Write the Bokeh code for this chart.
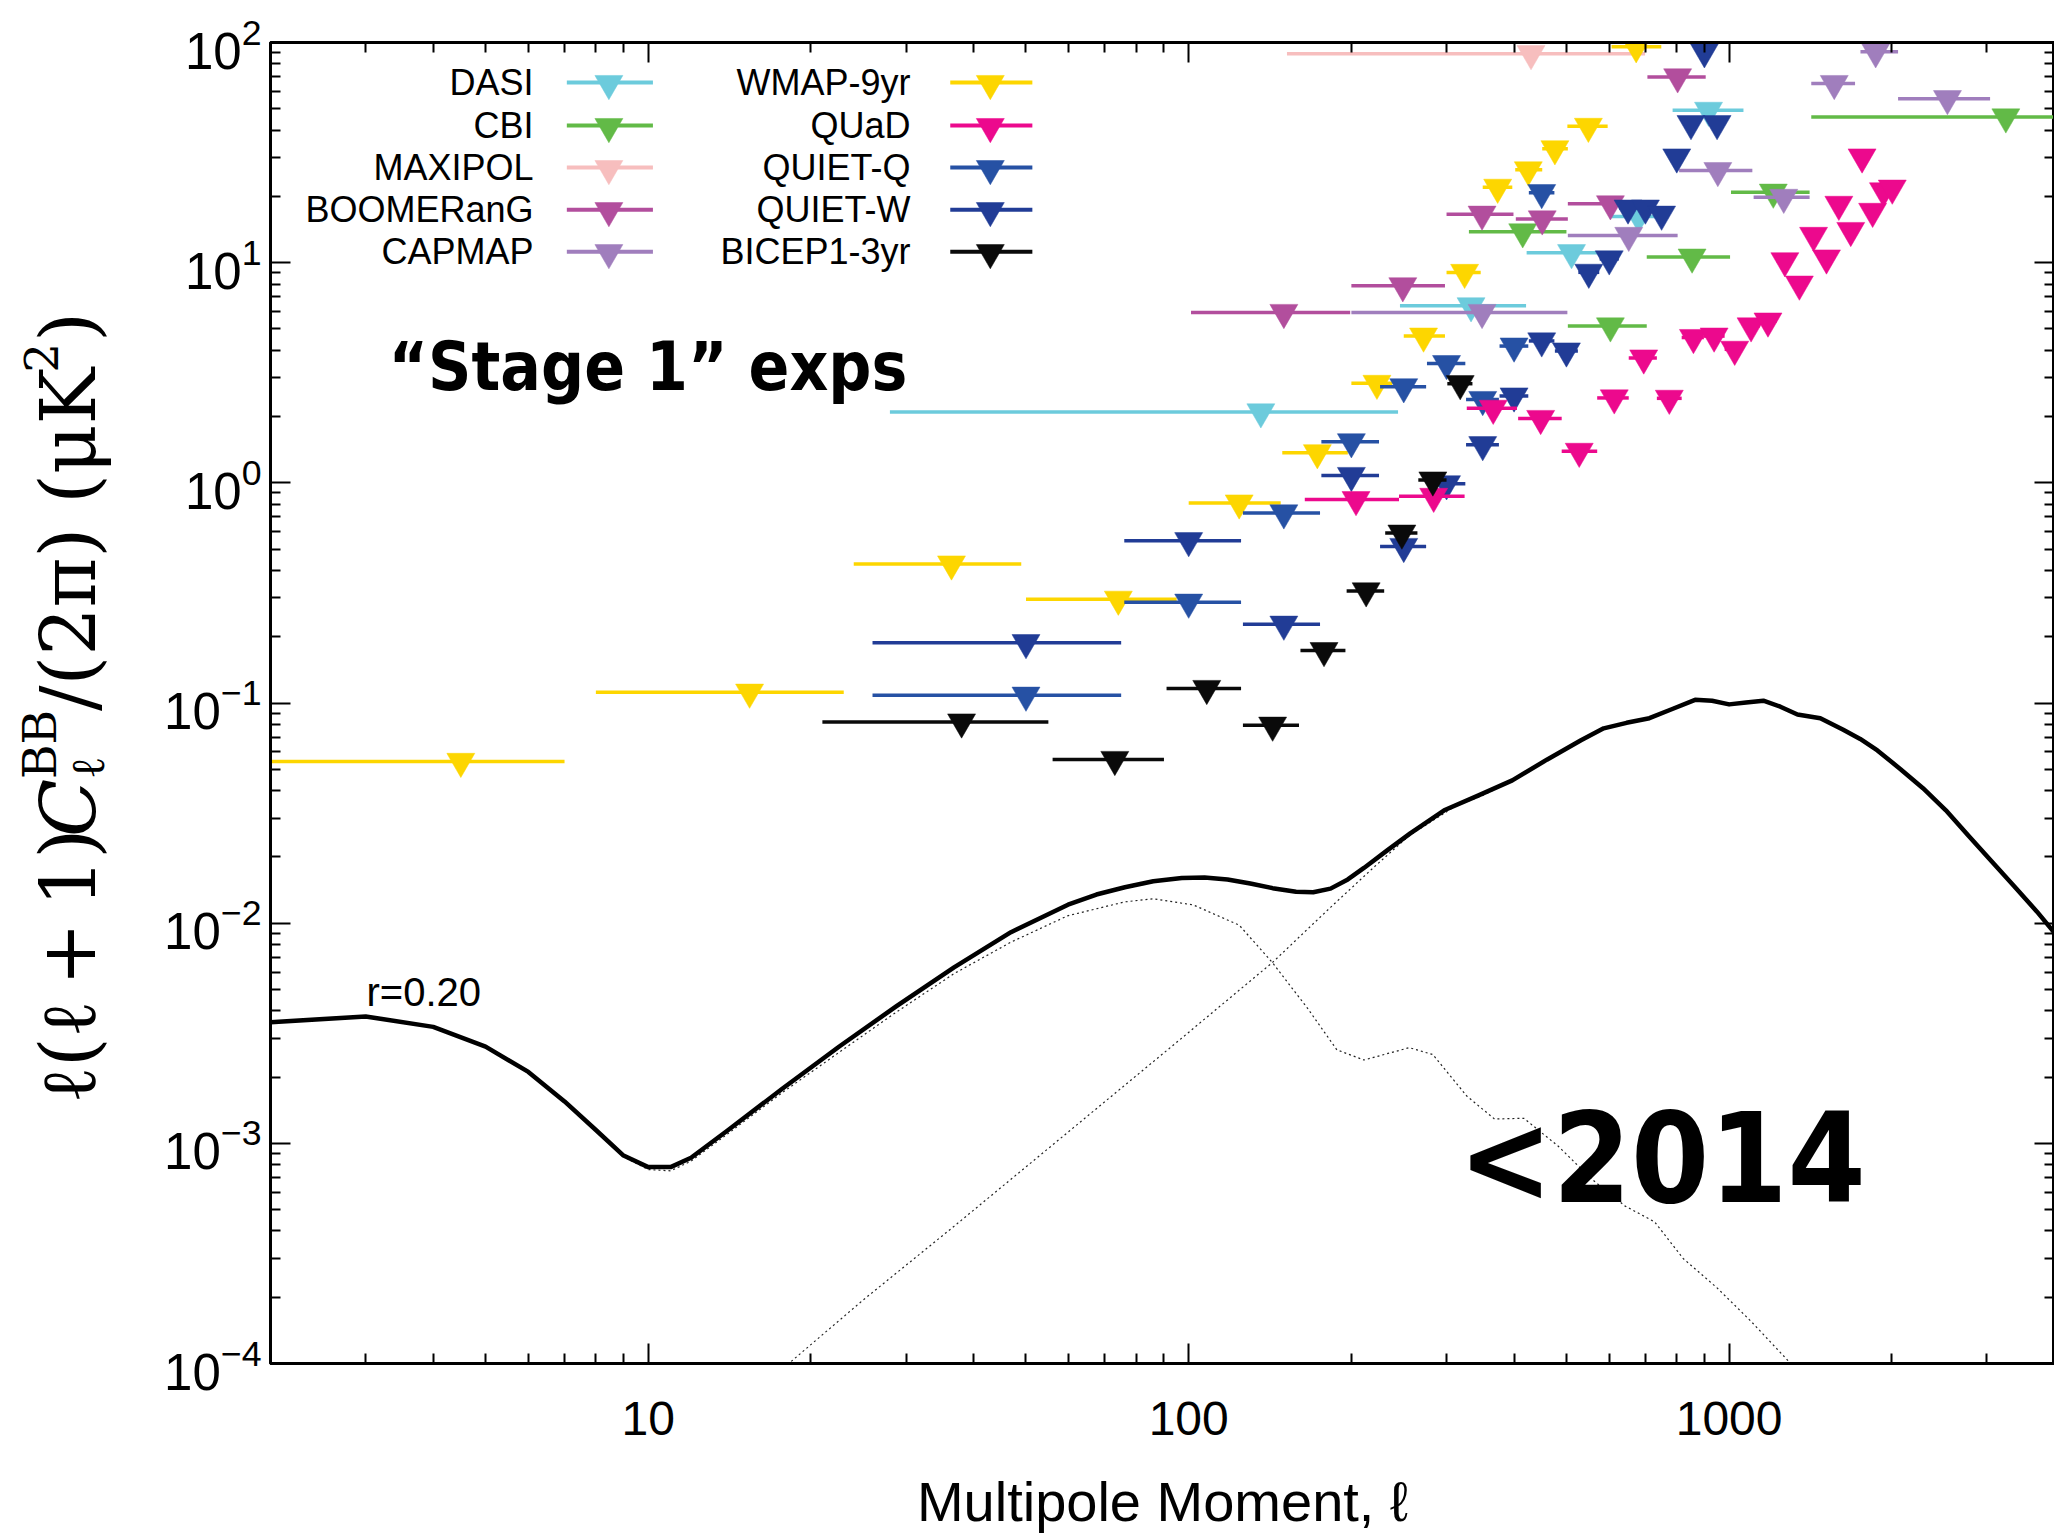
from math import log10, pi
from bokeh.plotting import figure
from bokeh.layouts import row
from bokeh.models import (Range1d, LogAxis, FixedTicker, LogTickFormatter,
                          NumeralTickFormatter, CustomJSTickFormatter, Label)
from bokeh.core.properties import value
from bokeh.embed import file_html
from bokeh.resources import INLINE

# ---------------- data ----------------
# theory curves: total BB (r=0.20 + lensing), tensor part, lensing part
tot_l = [2, 3, 4, 5, 6, 7, 8, 9, 10, 11, 12, 14, 17.7, 22.6, 28.8, 36.8, 46.9,
         59.8, 67.5, 76.2, 86.0, 97.1, 107, 118, 130, 143, 158, 170, 183, 197, 211, 233, 257,
         297, 343, 397, 460, 532, 586, 646, 712, 785, 865, 930, 1000, 1075, 1157, 1244, 1338,
         1475, 1626, 1748, 1881, 2073, 2284, 2518, 2773, 3056, 3369, 3712, 3993]
tot_v = [3.55e-3, 3.77e-3, 3.38e-3, 2.75e-3, 2.11e-3, 1.55e-3, 1.15e-3, 8.8e-4, 7.8e-4, 7.8e-4,
         8.6e-4, 1.14e-3, 1.77e-3, 2.76e-3, 4.2e-3, 6.3e-3, 9.1e-3,
         0.01213, 0.01349, 0.01456, 0.01549, 0.01603, 0.01611, 0.01580, 0.01513, 0.01442,
         0.01388, 0.01381, 0.01435, 0.01580, 0.01782, 0.02140, 0.02557, 0.03256, 0.03798,
         0.04450, 0.05528, 0.06768, 0.07671, 0.08128, 0.08531, 0.09393, 0.1034, 0.1024,
         0.09856, 0.1005, 0.1024, 0.09623, 0.08867, 0.08531, 0.07562, 0.06867, 0.06087,
         0.05019, 0.04102, 0.03256, 0.02497, 0.01916, 0.01470, 0.01128, 0.00908]
ten_l = [2, 3, 4, 5, 6, 7, 8, 9, 10, 11, 12, 14, 17.7, 22.6, 28.8, 36.8, 46.9, 59.7, 76.2, 86,
         102, 124, 143, 166, 188, 211, 256, 283, 327, 368, 417, 483, 556, 641, 728, 822, 951,
         1099, 1300, 1400]
ten_v = [3.55e-3, 3.77e-3, 3.38e-3, 2.75e-3, 2.11e-3, 1.55e-3, 1.15e-3, 8.7e-4, 7.6e-4, 7.5e-4,
         8.3e-4, 1.1e-3, 1.7e-3, 2.6e-3, 3.95e-3, 5.9e-3, 8.2e-3, 1.08e-2, 1.25e-2, 1.29e-2,
         1.21e-2, 9.8e-3, 6.6e-3, 4.1e-3, 2.66e-3, 2.39e-3, 2.72e-3, 2.53e-3, 1.64e-3, 1.29e-3,
         1.30e-3, 9.7e-4, 6.9e-4, 5.2e-4, 4.4e-4, 3.0e-4, 2.2e-4, 1.55e-4, 1.0e-4, 8.0e-5]
len_l = [15, 18.2, 24.9, 36.8, 59.7, 97, 143, 183, 222, 256, 312, 350, 397]
len_v = [7e-5, 1.0e-4, 1.93e-4, 4.2e-4, 1.12e-3, 3.0e-3, 6.64e-3, 1.18e-2, 1.83e-2, 2.5e-2,
         3.41e-2, 3.8e-2, 4.45e-2]

# experiments: bin centre, upper limit, bin low edge, bin high edge
dasi_l = [136, 333, 511, 680, 916]
dasi_v = [2.10, 6.37, 11.1, 16.2, 49.2]
dasi_lo = [28, 246, 422, 600, 786]
dasi_hi = [244, 421, 595, 770, 1063]

cbi_l = [415, 603, 854, 1207, 3251]
cbi_v = [13.8, 5.16, 10.6, 20.9, 45.9]
cbi_lo = [330, 503, 704, 1008, 1419]
cbi_hi = [500, 704, 1004, 1409, 4000]

maxipol_l = [430]
maxipol_v = [89.0]
maxipol_lo = [152]
maxipol_hi = [699]

boom_l = [150, 249, 349, 451, 603, 803]
boom_v = [5.94, 7.85, 16.6, 15.8, 18.5, 69.8]
boom_lo = [101, 200, 300, 403, 503, 706]
boom_hi = [199, 298, 399, 503, 700, 905]

capmap_l = [349, 652, 953, 1262, 1565, 1867, 2535]
capmap_v = [5.94, 13.3, 26.2, 19.8, 65.1, 90.7, 55.6]
capmap_lo = [200, 503, 808, 1110, 1419, 1750, 2054]
capmap_hi = [502, 803, 1104, 1409, 1710, 2054, 3040]

wmap_l = [4.5, 15.4, 36.4, 74.1, 124, 173, 223, 272, 324, 373, 425, 476, 549, 673]
wmap_v = [0.0543, 0.112, 0.428, 0.296, 0.81, 1.37, 2.83, 4.64, 9.03, 22.0, 26.4, 32.9, 41.6, 95.6]
wmap_lo = [2, 8, 24, 50, 100, 149, 200, 250, 300, 350, 402, 451, 502, 606]
wmap_hi = [7, 23, 49, 95, 148, 197, 238, 298, 347, 397, 451, 503, 596, 749]

quad_l = [204, 284, 366, 448, 528, 613, 695, 775, 859, 938, 1024, 1098, 1180, 1268, 1349,
          1433, 1514, 1596, 1679, 1762, 1843, 1930, 2004]
quad_v = [0.839, 0.868, 2.18, 1.96, 1.39, 2.43, 3.69, 2.42, 4.57, 4.64, 4.04, 5.16, 5.43, 10.2,
          7.99, 13.3, 10.5, 18.4, 14.0, 30.2, 17.1, 21.2, 21.8]
quad_lo = [164, 245, 327, 407, 490, 570, 652, 735, 817, 898, 981, 1061, 1139, 1224, 1308, 1391,
           1473, 1555, 1637, 1720, 1802, 1886, 1967]
quad_hi = [245, 324, 405, 490, 570, 652, 735, 817, 898, 981, 1061, 1139, 1224, 1308, 1391, 1473,
           1555, 1637, 1720, 1802, 1886, 1967, 2040]

quietq_l = [50, 100, 150, 200, 250, 300, 350, 400, 450]
quietq_v = [0.1085, 0.287, 0.73, 1.536, 2.73, 3.48, 2.39, 4.18, 20.8]
quietq_lo = [26, 76, 126, 176, 226, 276, 326, 376, 426]
quietq_hi = [75, 125, 175, 225, 275, 325, 375, 425, 475]

quietw_l = [50, 100, 150, 200, 250, 300, 350, 400, 450, 500, 550, 600, 650, 700, 750, 800,
            850, 900, 950]
quietw_v = [0.188, 0.546, 0.228, 1.08, 0.514, 0.99, 1.49, 2.48, 4.41, 3.97, 9.04, 10.4, 17.7,
            17.7, 16.6, 30.2, 42.8, 90.7, 42.8]
quietw_lo = [26, 76, 126, 176, 226, 276, 326, 376, 426, 476, 526, 576, 626, 676, 726, 776,
             826, 876, 926]
quietw_hi = [75, 125, 175, 225, 275, 325, 375, 425, 475, 525, 575, 625, 675, 725, 775, 825,
             875, 925, 975]

bicep_l = [38, 73, 108, 143, 178, 213, 248, 283, 318]
bicep_v = [0.082, 0.0554, 0.1164, 0.0793, 0.173, 0.323, 0.591, 1.03, 2.82]
bicep_lo = [21, 56, 91, 126, 161, 196, 231, 266, 301]
bicep_hi = [55, 90, 125, 160, 195, 230, 265, 300, 335]

names = ["DASI", "CBI", "MAXIPOL", "BOOMERanG", "CAPMAP",
         "WMAP-9yr", "QUaD", "QUIET-Q", "QUIET-W", "BICEP1-3yr"]
colors = ["#6CCBDC", "#62BA47", "#F7BEBE", "#B24E9D", "#A07EBD",
          "#FDD600", "#EC098D", "#2651A4", "#213C96", "#0A0A0A"]

x_major = [10, 100, 1000]
y_major = [1e-4, 1e-3, 1e-2, 1e-1, 1e0, 1e1, 1e2]

# ---------------- layout ----------------
H = 1536
LW = 160                      # narrow left strip carrying the rotated y label
W = 2054 - LW                 # main figure width
FL, FT, FB = 270, 43, 1363    # page coords of frame left / top / bottom
FR = 2052
BL, BT, BB, BR = FL - LW, FT - 1, H - FB, 0
XMIN, XMAX, YMIN, YMAX = 2, 4000, 1e-4, 1e2
BASE_SHIFT = 0.35             # empirical alphabetic baseline correction (fraction of font size)

p = figure(width=W, height=H, x_axis_type="log", y_axis_type="log",
           x_range=Range1d(XMIN, XMAX), y_range=Range1d(YMIN, YMAX),
           output_backend="svg", toolbar_location=None,
           min_border_left=BL, min_border_right=BR, min_border_top=BT, min_border_bottom=BB)
p.grid.visible = False
p.outline_line_color = "black"
p.outline_line_width = 3
p.background_fill_color = "white"
p.border_fill_color = "white"

x_minor = [k * 10 ** n for n in range(0, 4) for k in range(2, 10)
           if 2 < k * 10 ** n < 4000]
y_minor = [k * 10.0 ** n for n in range(-4, 2) for k in range(2, 10)]
xticker = FixedTicker(ticks=x_major, minor_ticks=x_minor)
yticker = FixedTicker(ticks=y_major, minor_ticks=y_minor)


def style_axis(ax, size="48px"):
    ax.axis_line_width = 3
    ax.axis_line_color = "black"
    ax.major_tick_in = 20
    ax.major_tick_out = 0
    ax.minor_tick_in = 10
    ax.minor_tick_out = 0
    ax.major_tick_line_width = 2
    ax.minor_tick_line_width = 2
    ax.major_tick_line_color = "black"
    ax.minor_tick_line_color = "black"
    ax.major_label_text_font = "Liberation Sans"
    ax.major_label_text_font_size = size
    ax.major_label_text_color = "black"


xa = p.xaxis[0]
style_axis(xa)
xa.ticker = xticker
xa.formatter = NumeralTickFormatter(format="0")
xa.major_label_standoff = 38
xa.axis_label = "Multipole Moment, ℓ"
xa.axis_label_text_font = "Liberation Sans"
xa.axis_label_text_font_size = "56px"
xa.axis_label_text_font_style = "normal"
xa.axis_label_text_color = "black"
xa.axis_label_standoff = 32

ya = p.yaxis[0]
style_axis(ya, "51px")
ya.ticker = yticker
ya.formatter = LogTickFormatter()
ya.major_label_standoff = 9

blank = CustomJSTickFormatter(code="return ''")
for loc, tk in (("above", xticker), ("right", yticker)):
    ax = LogAxis(ticker=tk, formatter=blank)
    style_axis(ax)
    ax.major_label_text_font_size = "1px"
    ax.major_label_standoff = 0
    p.add_layout(ax, loc)

# ---------------- theory curves ----------------
p.line(ten_l, ten_v, line_color="#222222", line_width=1.2, line_dash="2 3")
p.line(len_l, len_v, line_color="#222222", line_width=1.2, line_dash="2 3")
p.line(tot_l, tot_v, line_color="black", line_width=4.5, line_join="round")

# ---------------- experiments ----------------
exps = [
    (dasi_l, dasi_v, dasi_lo, dasi_hi, colors[0]),
    (cbi_l, cbi_v, cbi_lo, cbi_hi, colors[1]),
    (maxipol_l, maxipol_v, maxipol_lo, maxipol_hi, colors[2]),
    (boom_l, boom_v, boom_lo, boom_hi, colors[3]),
    (capmap_l, capmap_v, capmap_lo, capmap_hi, colors[4]),
    (wmap_l, wmap_v, wmap_lo, wmap_hi, colors[5]),
    (quietq_l, quietq_v, quietq_lo, quietq_hi, colors[7]),
    (quietw_l, quietw_v, quietw_lo, quietw_hi, colors[8]),
    (quad_l, quad_v, quad_lo, quad_hi, colors[6]),
    (bicep_l, bicep_v, bicep_lo, bicep_hi, colors[9]),
]
for l, v, lo, hi, c in exps:
    p.segment(x0=lo, y0=v, x1=hi, y1=v, line_color=c, line_width=3.5)
    p.scatter(x=l, y=v, marker="inverted_triangle", size=28, fill_color=c,
              line_color=c, line_width=0.5)


# ---------------- helpers for page-pixel placement ----------------
def lx(px):
    return 10 ** (log10(XMIN) + (px - FL) / (FR - FL) * log10(XMAX / XMIN))


def vy(py):
    return 10 ** (log10(YMAX) - (py - FT) / (FB - FT) * log10(YMAX / YMIN))


def lab(px, py, text, size, font="Liberation Sans", style="normal", align="left"):
    yb = py - BASE_SHIFT * size
    p.add_layout(Label(x=px - FL, y=FB - yb, x_units="screen", y_units="screen",
                       text=text, text_font=font, text_font_size=f"{size}px",
                       text_font_style=style, text_align=align, text_baseline="alphabetic",
                       text_color="black"))


# ---------------- legend (two columns, text left of symbol) ----------------
rows_y = [83, 126, 168, 210, 252]
cols = [(533, 566, 652, 608), (910, 949, 1031, 989)]
for i, (nm, c) in enumerate(zip(names, colors)):
    tx, l0, l1, mx = cols[i // 5]
    ry = rows_y[i % 5]
    lab(tx, ry + 12, nm, 36, align="right")
    p.segment(x0=[lx(l0)], y0=[vy(ry)], x1=[lx(l1)], y1=[vy(ry)], line_color=c, line_width=4)
    p.scatter(x=[lx(mx)], y=[vy(ry + 1)], marker="inverted_triangle", size=28,
              fill_color=c, line_color=c, line_width=0.5)

# ---------------- annotations ----------------
lab(388, 390, "\u201cStage 1\u201d exps", 67, font="DejaVu Sans Condensed", style="bold")
lab(1458, 1202, "<2014", 125, font="DejaVu Sans Condensed", style="bold")
lab(366, 1005, "r=0.20", 40)

# ---------------- y-axis label in a narrow left strip (rotated, reading upwards) ----
# the strip's frame is aligned with the main frame (page y FT..FB) by the row layout
lf = figure(width=LW, height=H, x_range=Range1d(0, LW), y_range=Range1d(H - FB, H - FT),
            output_backend="svg", toolbar_location=None,
            x_axis_location=None, y_axis_location=None,
            min_border_left=0, min_border_right=0, min_border_top=BT, min_border_bottom=BB)
lf.grid.visible = False
lf.outline_line_color = None
lf.background_fill_color = "white"
lf.border_fill_color = "white"

F, FS = 76, 47
bx = 95


def ytext(px, py, text, size, style="normal"):
    lf.text(x=[px - BASE_SHIFT * size], y=[H - py], text=[text], angle=pi / 2,
            text_font=value("DejaVu Serif"), text_font_size=f"{size}px",
            text_font_style=style, text_align="left", text_baseline="alphabetic",
            text_color="black")


ytext(bx, 1103, "ℓ(ℓ\u2009+\u20091)", F)
ytext(bx, 837, "C", F, style="italic")
ytext(bx - 40, 779, "BB", FS)
ytext(bx + 8, 779, "ℓ", FS)
ytext(bx, 711, "/(2π) (μK", F)
ytext(bx - 38, 373, "2", FS)
ytext(bx, 342, ")", F)

layout = row(lf, p)
open("out.html", "w").write(file_html(layout, INLINE))
